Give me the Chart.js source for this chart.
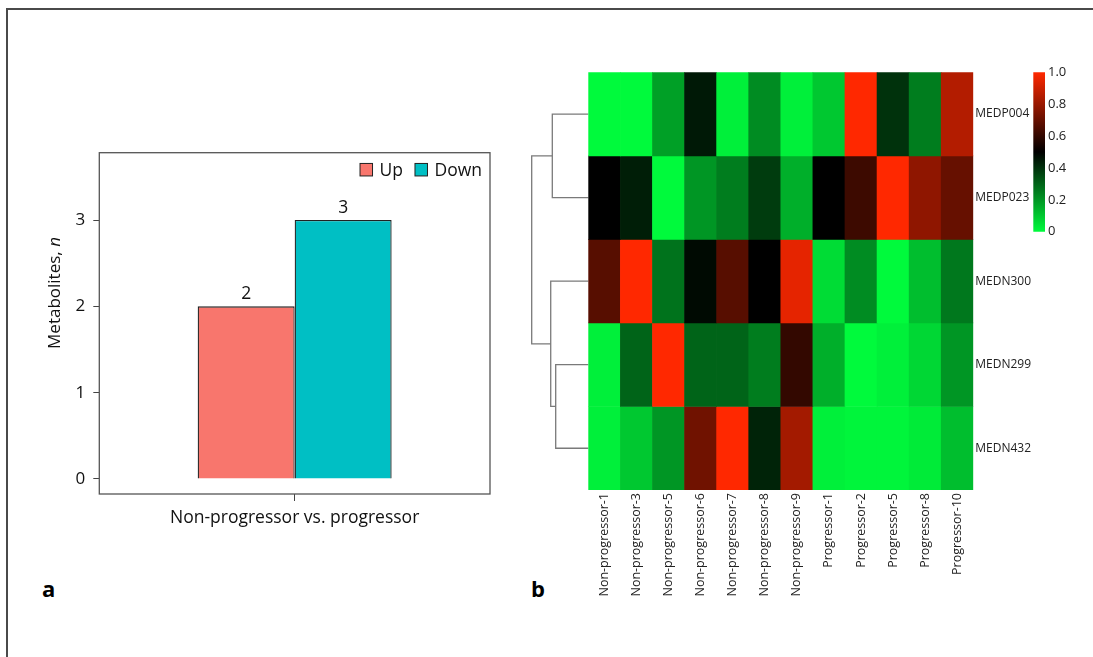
<!DOCTYPE html>
<html>
<head>
<meta charset="utf-8">
<script src="https://cdn.jsdelivr.net/npm/chart.js@4"></script>
<style>
  html, body { margin: 0; padding: 0; background: #fff; }
  body { width: 1093px; height: 657px; position: relative; overflow: hidden; font-family: "Open Sans", sans-serif; }
  .frame { position: absolute; left: 6px; top: 8px; width: 1100px; height: 700px; border-top: 2px solid #4a4a4a; border-left: 2px solid #4a4a4a; }
  .panel-letter { position: absolute; font: bold 22px "Open Sans", sans-serif; line-height: 22px; color: #000; }
  canvas { position: absolute; }
</style>
</head>
<body>
<div class="frame"></div>
<div class="panel-letter" style="left:42px; top:577px;">a</div>
<div class="panel-letter" style="left:531px; top:577px;">b</div>
<canvas id="barChart" style="left:0; top:0;" width="520" height="560"></canvas>
<canvas id="dendroChart" style="left:520px; top:60px;" width="70" height="440"></canvas>
<canvas id="heatChart" style="left:580px; top:60px;" width="470" height="560"></canvas>
<canvas id="scaleChart" style="left:1020px; top:60px;" width="73" height="190"></canvas>
<script>
// panel a: number of changed metabolites
const barCategories = ["Non-progressor vs. progressor"];
const upCounts = [2];
const downCounts = [3];
const seriesNames = ["Up", "Down"];
const barTicks = [0, 1, 2, 3];

// panel b: heatmap (scaled abundance 0..1)
const sampleLabels = ["Non-progressor-1", "Non-progressor-3", "Non-progressor-5", "Non-progressor-6",
  "Non-progressor-7", "Non-progressor-8", "Non-progressor-9", "Progressor-1", "Progressor-2",
  "Progressor-5", "Progressor-8", "Progressor-10"];
const metaboliteLabels = ["MEDP004", "MEDP023", "MEDN300", "MEDN299", "MEDN432"];
const medp004 = [0.0, 0.0, 0.18, 0.45, 0.02, 0.22, 0.02, 0.10, 1.0, 0.40, 0.25, 0.85];
const medp023 = [0.5, 0.44, 0.0, 0.20, 0.25, 0.38, 0.15, 0.5, 0.62, 1.0, 0.78, 0.70];
const medn300 = [0.67, 1.0, 0.27, 0.48, 0.67, 0.5, 0.95, 0.06, 0.22, 0.0, 0.12, 0.26];
const medn299 = [0.02, 0.30, 1.0, 0.30, 0.30, 0.25, 0.60, 0.15, 0.0, 0.02, 0.07, 0.20];
const medn432 = [0.02, 0.10, 0.20, 0.72, 1.0, 0.43, 0.82, 0.02, 0.01, 0.01, 0.03, 0.12];
const scaleTicks = [0, 0.2, 0.4, 0.6, 0.8, 1.0];

// row dendrogram, hclust style: negative = leaf (row number), positive = earlier merge
const dendroMerge = [[-4, -5], [-3, 1], [-1, -2], [3, 2]];
const dendroHeights = [0.576, 0.664, 0.636, 1.0];

const heatRows = [medp004, medp023, medn300, medn299, medn432];

function heatColor(v) {
  const green = [0, 250, 60], red = [255, 40, 0];
  let c, t;
  if (v <= 0.5) { t = (0.5 - v) / 0.5; c = green; }
  else { t = (v - 0.5) / 0.5; c = red; }
  return `rgb(${Math.round(c[0] * t)},${Math.round(c[1] * t)},${Math.round(c[2] * t)})`;
}

Chart.defaults.font.family = '"Open Sans", sans-serif';
Chart.defaults.animation = false;
Chart.defaults.plugins.tooltip.enabled = false;
Chart.defaults.plugins.legend.display = false;

// ---- bar chart ----
const barDecor = {
  id: "barDecor",
  afterDatasetsDraw(chart) {
    const ctx = chart.ctx;
    const a = chart.chartArea;
    ctx.save();
    // value labels
    ctx.font = '17.5px "Open Sans", sans-serif';
    ctx.fillStyle = "#111";
    ctx.textAlign = "center";
    ctx.textBaseline = "alphabetic";
    chart.data.datasets.forEach((ds, i) => {
      chart.getDatasetMeta(i).data.forEach((bar, j) => {
        ctx.fillText(String(ds.data[j]), bar.x, bar.y - 7);
      });
    });
    // plot box
    ctx.strokeStyle = "#555";
    ctx.lineWidth = 1.3;
    ctx.strokeRect(a.left, a.top, a.right - a.left, a.bottom - a.top);
    // legend inside the box, top right
    ctx.font = '17.5px "Open Sans", sans-serif';
    ctx.textAlign = "left";
    ctx.textBaseline = "middle";
    const box = 12.5, gap = 7, itemGap = 12;
    const widths = chart.data.datasets.map(ds => box + gap + ctx.measureText(ds.label).width);
    let x = a.right - 8 - widths.reduce((s, w) => s + w, 0) - itemGap * (widths.length - 1);
    const yMid = a.top + 17;
    chart.data.datasets.forEach((ds, i) => {
      ctx.fillStyle = ds.backgroundColor;
      ctx.fillRect(x, yMid - box / 2, box, box);
      ctx.strokeStyle = "#222";
      ctx.lineWidth = 1;
      ctx.strokeRect(x, yMid - box / 2, box, box);
      ctx.fillStyle = "#111";
      ctx.fillText(ds.label, x + box + gap, yMid + 1);
      x += widths[i] + itemGap;
    });
    // y title with italic n
    ctx.translate(55, 293);
    ctx.rotate(-Math.PI / 2);
    ctx.textBaseline = "middle";
    const p1 = "Metabolites, ", p2 = "n";
    ctx.font = '17px "Open Sans", sans-serif';
    const w1 = ctx.measureText(p1).width;
    ctx.font = 'italic 17px "Open Sans", sans-serif';
    const w2 = ctx.measureText(p2).width;
    let sx = -(w1 + w2) / 2;
    ctx.font = '17px "Open Sans", sans-serif';
    ctx.fillText(p1, sx, 0);
    ctx.font = 'italic 17px "Open Sans", sans-serif';
    ctx.fillText(p2, sx + w1, 0);
    ctx.restore();
  }
};

new Chart(document.getElementById("barChart"), {
  type: "bar",
  data: {
    labels: barCategories,
    datasets: [
      { label: seriesNames[0], data: upCounts, backgroundColor: "#F8766D", borderColor: "#222", borderWidth: 1.3 },
      { label: seriesNames[1], data: downCounts, backgroundColor: "#00BFC4", borderColor: "#222", borderWidth: 1.3 }
    ]
  },
  options: {
    responsive: false,
    layout: { padding: { top: 152.7, left: 0, right: 30, bottom: 0 } },
    datasets: { bar: { barPercentage: 1, categoryPercentage: 0.4965 } },
    scales: {
      x: {
        grid: { display: true, offset: false, drawOnChartArea: false, drawTicks: true, tickLength: 7, color: "#444" },
        border: { display: false },
        ticks: { color: "#111", font: { size: 17.5 }, padding: 7 },
        afterFit(s) { s.height = 66; }
      },
      y: {
        min: -0.174, max: 3.78,
        grid: { display: true, drawOnChartArea: false, drawTicks: true, tickLength: 6, color: "#444" },
        border: { display: false },
        ticks: { color: "#111", font: { size: 17 }, padding: 8 },
        afterBuildTicks(s) { s.ticks = barTicks.map(v => ({ value: v })); },
        afterFit(s) { s.width = 99.3; }
      }
    }
  },
  plugins: [barDecor]
});

// ---- dendrogram ----
function dendroSegments() {
  const nodes = [];
  const pos = ref => ref < 0 ? { y: -ref - 0.5, h: 0 } : nodes[ref - 1];
  const segs = [];
  dendroMerge.forEach((m, i) => {
    const a = pos(m[0]), b = pos(m[1]), h = dendroHeights[i];
    segs.push([{ x: a.h, y: a.y }, { x: h, y: a.y }, { x: h, y: b.y }, { x: b.h, y: b.y }]);
    nodes.push({ y: (a.y + b.y) / 2, h: h });
  });
  return segs;
}

new Chart(document.getElementById("dendroChart"), {
  type: "scatter",
  data: {
    datasets: dendroSegments().map(pts => ({
      data: pts, showLine: true, borderColor: "#7a7a7a", borderWidth: 1.3,
      pointRadius: 0, clip: false
    }))
  },
  options: {
    responsive: false,
    layout: { padding: { top: 12.3, bottom: 10, left: 11.7, right: 1.7 } },
    scales: {
      x: { type: "linear", min: 0, max: 1, reverse: true, display: false },
      y: { type: "linear", min: 0, max: 5, reverse: true, display: false }
    }
  }
});

// ---- heatmap ----
new Chart(document.getElementById("heatChart"), {
  type: "bar",
  data: {
    labels: sampleLabels,
    datasets: heatRows.map((row, r) => ({
      label: metaboliteLabels[r],
      data: row.map(() => [r, r + 1]),
      backgroundColor: row.map(v => heatColor(v)),
      borderWidth: 0,
      barPercentage: 1,
      categoryPercentage: 1
    }))
  },
  options: {
    responsive: false,
    layout: { padding: { top: 12.3, left: 8.3, right: 0, bottom: 0 } },
    scales: {
      x: {
        stacked: true,
        grid: { display: false, drawTicks: false, tickLength: 0 },
        border: { display: false },
        ticks: { color: "#222", font: { size: 12.5 }, minRotation: 90, maxRotation: 90, autoSkip: false, padding: 3 },
        afterFit(s) { s.height = 130; }
      },
      y: {
        min: 0, max: 5, reverse: true, position: "right",
        grid: { display: false, drawTicks: false, tickLength: 0 },
        border: { display: false },
        ticks: { color: "#222", font: { size: 12 }, padding: 2, callback: v => metaboliteLabels[Math.floor(v)] },
        afterBuildTicks(s) { s.ticks = metaboliteLabels.map((_, i) => ({ value: i + 0.5 })); },
        afterFit(s) { s.width = 76.7; }
      }
    }
  }
});

// ---- colour key ----
new Chart(document.getElementById("scaleChart"), {
  type: "bar",
  data: {
    labels: ["key"],
    datasets: [{
      data: [[0, 1]],
      borderWidth: 0,
      barPercentage: 1,
      categoryPercentage: 1,
      backgroundColor(c) {
        const chart = c.chart;
        if (!chart.chartArea) return "#000";
        const y = chart.scales.y;
        const g = chart.ctx.createLinearGradient(0, y.getPixelForValue(0), 0, y.getPixelForValue(1));
        [0, 0.25, 0.5, 0.75, 1].forEach(v => g.addColorStop(v, heatColor(v)));
        return g;
      }
    }]
  },
  options: {
    responsive: false,
    layout: { padding: { top: 12.3, left: 13.3, right: 0, bottom: 18.3 } },
    scales: {
      x: { display: false, afterFit(s) { s.height = 0; } },
      y: {
        min: 0, max: 1, position: "right",
        grid: { display: false, drawTicks: false, tickLength: 0 },
        border: { display: false },
        ticks: { color: "#222", font: { size: 13 }, padding: 3, callback: v => v === 0 ? "0" : v.toFixed(1) },
        afterBuildTicks(s) { s.ticks = scaleTicks.map(v => ({ value: v })); },
        afterFit(s) { s.width = 48; }
      }
    }
  }
});
</script>
</body>
</html>
